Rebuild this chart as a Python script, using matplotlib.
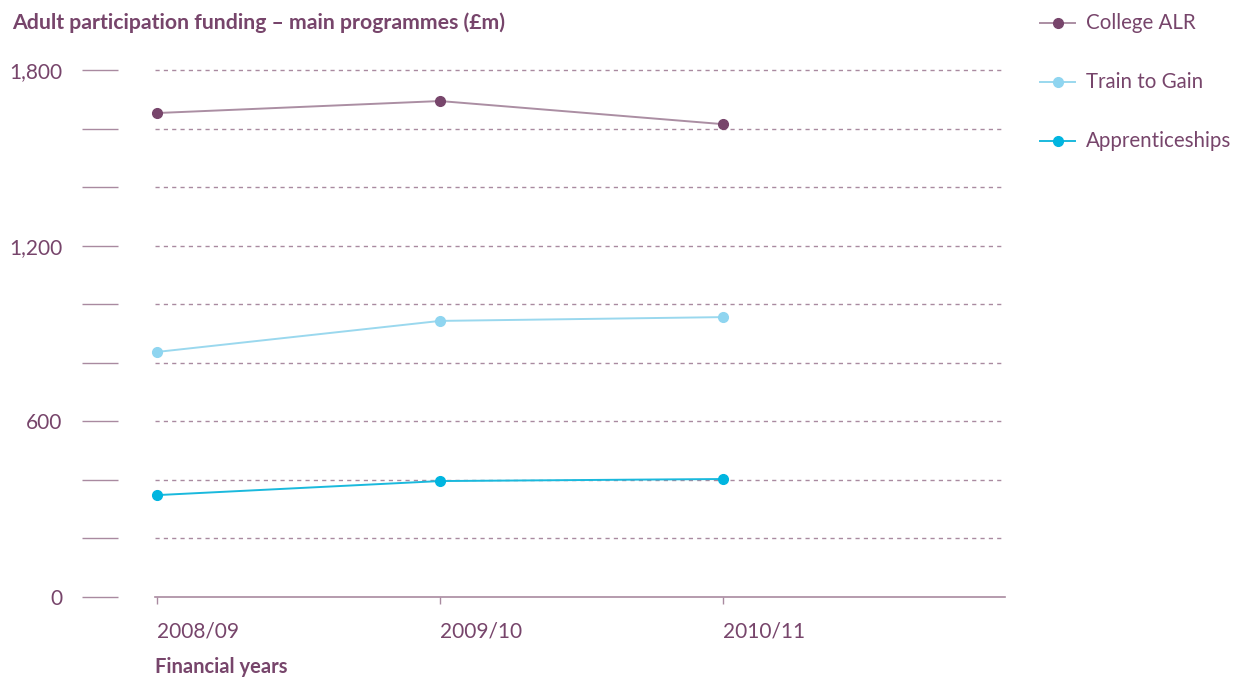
import matplotlib
matplotlib.use("Agg")
import matplotlib.pyplot as plt

plt.rcParams['font.family'] = ['Lato', 'DejaVu Sans']

# data (£m)
years = ["2008/09", "2009/10", "2010/11"]
college_alr = [1653, 1694, 1615]
train_to_gain = [837, 943, 956]
apprenticeships = [348, 396, 403]

text_col = "#77456b"
grid_col = "#a98aa0"

fig = plt.figure(figsize=(12.4, 6.82), dpi=100)
ax = fig.add_axes([155 / 1240, 1 - 597 / 682, 850 / 1240, 527 / 682])

x = list(range(len(years)))

# dashed gridlines every 200
for v in range(200, 2000, 200):
    ax.axhline(v, color=grid_col, lw=1.0, ls=(0, (3, 3)), zorder=1, clip_on=False)

ax.plot(x, college_alr, color="#ab8ea3", lw=1.4, zorder=3, clip_on=False)
ax.plot(x, college_alr, ls="none", marker="o", ms=7, color="#77456b", zorder=4, clip_on=False)
ax.plot(x, train_to_gain, color="#9ad8ee", lw=1.4, zorder=3, clip_on=False)
ax.plot(x, train_to_gain, ls="none", marker="o", ms=7, color="#8fd5f0", zorder=4, clip_on=False)
ax.plot(x, apprenticeships, color="#1ab9dd", lw=1.4, zorder=3, clip_on=False)
ax.plot(x, apprenticeships, ls="none", marker="o", ms=7, color="#00b5e0", zorder=4, clip_on=False)

ax.set_xlim(-0.007, 2.996)
ax.set_ylim(0, 1800)

for s in ["top", "right", "left"]:
    ax.spines[s].set_visible(False)
ax.spines["bottom"].set_color(grid_col)
ax.spines["bottom"].set_linewidth(1.2)

# y ticks: short detached lines every 200, labels every 600
ax.spines["left"].set_position(("outward", 26.6))
ax.set_yticks(range(0, 2000, 200))
ax.set_yticklabels([f"{v:,}" if v % 600 == 0 else "" for v in range(0, 2000, 200)])
ax.tick_params(axis="y", direction="out", length=26, width=1.0, color=grid_col,
               pad=14, labelsize=15, labelcolor=text_col)

ax.set_xticks(x)
ax.set_xticklabels(years, ha="left")
ax.tick_params(axis="x", direction="out", length=5, width=1.0, color=grid_col,
               pad=13, labelsize=15, labelcolor=text_col)

fig.text(12 / 1240, 1 - 23 / 682, "Adult participation funding \u2013 main programmes (\u00a3m)",
         fontsize=15.3, fontweight="bold", color=text_col, va="center", ha="left")
fig.text(155 / 1240, 1 - 667 / 682, "Financial years",
         fontsize=14.5, fontweight="bold", color=text_col, va="center", ha="left")

# legend drawn by hand on the right
legend_items = [("College ALR", "#ab8ea3", "#77456b"),
                ("Train to Gain", "#9ad8ee", "#8fd5f0"),
                ("Apprenticeships", "#1ab9dd", "#00b5e0")]
for i, (lab, lc, mc) in enumerate(legend_items):
    yy = 1 - (23 + i * 59) / 682
    fig.add_artist(plt.Line2D([1040 / 1240, 1075 / 1240], [yy, yy], color=lc, lw=1.4,
                              transform=fig.transFigure))
    fig.add_artist(plt.Line2D([1058 / 1240], [yy], color=mc, marker="o", ms=7,
                              transform=fig.transFigure))
    fig.text(1086 / 1240, yy, lab, fontsize=14.8, color=text_col, va="center", ha="left")

fig.savefig("out.png", dpi=100)
